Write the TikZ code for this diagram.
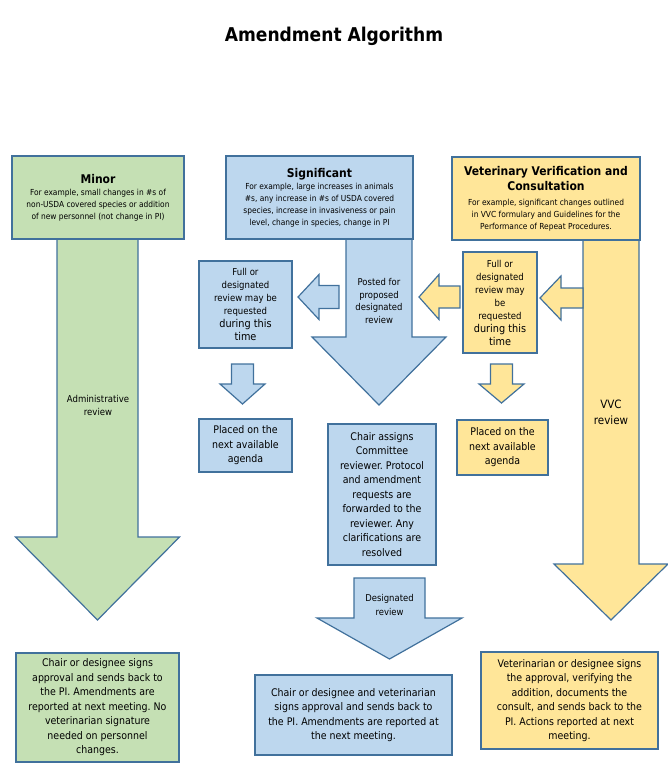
\documentclass[tikz,border=0pt]{standalone}
\usepackage{fontspec}
\setmainfont{DejaVu Sans Condensed}
\usetikzlibrary{positioning}
\frenchspacing

\definecolor{edgeblue}{HTML}{41719C}
\definecolor{minorfill}{HTML}{C5E0B4}
\definecolor{sigfill}{HTML}{BDD7EE}
\definecolor{vvcfill}{HTML}{FFE699}

\newcommand{\bodyfont}{\fontsize{10.5}{14.5}\selectfont}
\newcommand{\notefont}{\fontsize{8.3}{12}\selectfont}
\newcommand{\headfont}{\bfseries\fontsize{12}{15}\selectfont}
\newcommand{\askfont}{\fontsize{9.5}{13}\selectfont}
\newcommand{\bigask}[1]{{\fontsize{10.8}{14}\selectfont #1}}

% down block arrow: fill, x, shaft half, head half, top, head base, tip
\newcommand{\downblock}[7]{%
  \draw[blockarrow,fill=#1] (#2-#3,#5) -- (#2+#3,#5) -- (#2+#3,#6) -- (#2+#4,#6)
    -- (#2,#7) -- (#2-#4,#6) -- (#2-#3,#6) -- cycle;}
% left block arrow: fill, y, shaft half, head half, tail, head base, tip
\newcommand{\leftblock}[7]{%
  \draw[blockarrow,fill=#1] (#5,#2-#3) -- (#6,#2-#3) -- (#6,#2-#4) -- (#7,#2)
    -- (#6,#2+#4) -- (#6,#2+#3) -- (#5,#2+#3) -- cycle;}

\begin{document}
\begin{tikzpicture}[x=1pt,y=-1pt]
  \tikzstyle{box} = [draw=edgeblue,line width=1.2pt,inner sep=0pt,align=center]
  \tikzstyle{blockarrow} = [draw=edgeblue,line width=1.2pt,line join=miter]
  \tikzstyle{arrowtext} = [align=center,inner sep=0pt]

  \useasboundingbox (0,0) rectangle (668,769);

  \node[font=\bfseries\fontsize{19}{22}\selectfont] (title) at (334,36) {Amendment Algorithm};

  % long arrows under the three headers
  \downblock{minorfill}{97.5}{40.5}{82}{239}{537}{620}
  \downblock{sigfill}{379}{33}{67}{239}{337}{405}
  \downblock{vvcfill}{611}{28}{57}{240}{564}{620}

  % headers
  \node[box,fill=minorfill,minimum width=172pt,minimum height=83pt,font=\notefont] (minor) at (98,197.5)
    {{\headfont Minor}\\For example, small changes in \#s of\\non-USDA covered species or addition\\of new personnel (not change in PI)};
  \node[box,fill=sigfill,minimum width=187pt,minimum height=83pt,font=\notefont] (significant) at (319.5,197.5)
    {{\headfont Significant}\\For example, large increases in animals\\\#s, any increase in \#s of USDA covered\\species, increase in invasiveness or pain\\level, change in species, change in PI};
  \node[box,fill=vvcfill,minimum width=188pt,minimum height=83pt,font=\notefont] (vvc) at (546,198.5)
    {{\headfont Veterinary Verification and}\\[3pt]{\headfont Consultation}\\[3pt]For example, significant changes outlined\\in VVC formulary and Guidelines for the\\Performance of Repeat Procedures.};

  % labels on the long arrows
  \node[arrowtext,font=\fontsize{9.5}{13}\selectfont] (adminreview) at (98,405.5) {Administrative\\review};
  \node[arrowtext,font=\fontsize{9.4}{12.5}\selectfont] (postedreview) at (379,301) {Posted for\\proposed\\designated\\review};
  \node[arrowtext,font=\fontsize{11.5}{16}\selectfont] (vvcreview) at (611,412) {VVC\\review};

  % side requests
  \leftblock{sigfill}{297}{11.5}{22.5}{339}{319}{298}
  \leftblock{vvcfill}{297}{11}{22.5}{460}{439}{419}
  \leftblock{vvcfill}{298}{10}{22}{583}{561}{540}

  \node[box,fill=sigfill,minimum width=93pt,minimum height=87pt,font=\askfont] (sigask) at (245.5,304.5)
    {Full or\\designated\\review may be\\requested\\\bigask{during this}\\\bigask{time}};
  \node[box,fill=vvcfill,minimum width=74pt,minimum height=101pt,font=\askfont] (vvcask) at (500,302.5)
    {Full or\\designated\\review may\\be\\requested\\\bigask{during this}\\\bigask{time}};

  \downblock{sigfill}{242.5}{11}{22.5}{364}{384}{404}
  \downblock{vvcfill}{501.5}{11}{22.5}{364}{384}{403}

  \node[box,fill=sigfill,minimum width=93pt,minimum height=53pt,font=\bodyfont] (sigagenda) at (245.5,445.5)
    {Placed on the\\next available\\agenda};
  \node[box,fill=vvcfill,minimum width=91pt,minimum height=55pt,font=\bodyfont] (vvcagenda) at (502.5,447.5)
    {Placed on the\\next available\\agenda};

  % designated review path
  \node[box,fill=sigfill,minimum width=108pt,minimum height=141pt,font=\bodyfont] (assign) at (382,494.5)
    {Chair assigns\\Committee\\reviewer. Protocol\\and amendment\\requests are\\forwarded to the\\reviewer. Any\\clarifications are\\resolved};
  \downblock{sigfill}{389.5}{35.5}{72.5}{578}{618}{659}
  \node[arrowtext,font=\fontsize{9.4}{14}\selectfont] (desigreview) at (389.5,605) {Designated\\review};

  % outcomes
  \node[box,fill=minorfill,minimum width=163pt,minimum height=109pt,font=\bodyfont] (minorend) at (97.5,707.5)
    {Chair or designee signs\\approval and sends back to\\the PI. Amendments are\\reported at next meeting. No\\veterinarian signature\\needed on personnel\\changes.};
  \node[box,fill=sigfill,minimum width=197pt,minimum height=80pt,font=\bodyfont] (sigend) at (353.5,715)
    {Chair or designee and veterinarian\\signs approval and sends back to\\the PI. Amendments are reported at\\the next meeting.};
  \node[box,fill=vvcfill,minimum width=177pt,minimum height=97pt,font=\bodyfont] (vvcend) at (569.5,700.5)
    {Veterinarian or designee signs\\the approval, verifying the\\addition, documents the\\consult, and sends back to the\\PI. Actions reported at next\\meeting.};
\end{tikzpicture}
\end{document}
